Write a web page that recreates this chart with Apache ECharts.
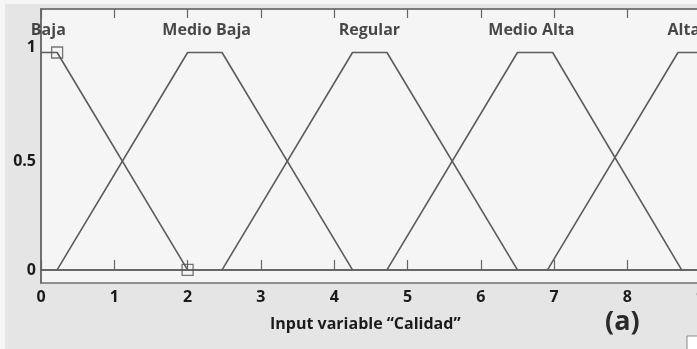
<!DOCTYPE html>
<html>
<head>
<meta charset="utf-8">
<script src="https://cdn.jsdelivr.net/npm/echarts@6/dist/echarts.min.js"></script>
<style>
  html, body { margin: 0; padding: 0; background: #f6f6f6; overflow: hidden; width: 697px; height: 349px; }
  /* The plot runs past the right edge of the page, so the canvas is wider than the view */
  #chart { width: 774px; height: 349px; }
</style>
</head>
<body>
<div id="chart"></div>
<script>
// Membership functions of the input variable "Calidad"
const setNames = ['Baja', 'Medio Baja', 'Regular', 'Medio Alta', 'Alta'];
const bajaPts = [[0, 1], [0.22, 1], [2, 0]];
const medioBajaPts = [[0.22, 0], [2, 1], [2.47, 1], [4.25, 0]];
const regularPts = [[2.47, 0], [4.25, 1], [4.72, 1], [6.5, 0]];
const medioAltaPts = [[4.72, 0], [6.5, 1], [6.98, 1], [8.74, 0]];
const altaPts = [[6.91, 0], [8.69, 1], [10, 1]];
const baseline = [[0, 0], [10, 0]];
// Highlighted vertices of the selected set
const markedPts = [[0.22, 1], [2, 0]];
// Set name anchors (x, y in data units)
const nameX = [0.1, 2.26, 4.48, 6.69, 8.77];
const nameY = 1.103;
const xTicks = [0, 1, 2, 3, 4, 5, 6, 7, 8, 9, 10];
const yTicks = [0, 0.5, 1];

const FONT = '"Open Sans", "DejaVu Sans", sans-serif';
const LINE = '#5c5c5c';
const TEXT = '#1b1b1b';

const chart = echarts.init(document.getElementById('chart'), null, { renderer: 'canvas' });

const mfLine = (name, pts) => ({
  name, type: 'line', data: pts, symbol: 'none', silent: true,
  lineStyle: { color: LINE, width: 1.6 }, z: 3, animation: false
});

chart.setOption({
  animation: false,
  backgroundColor: '#f6f6f6',
  graphic: [
    { type: 'rect', z: -10, shape: { x: 5, y: 4, width: 800, height: 360 }, style: { fill: '#e5e5e5' } },
    { type: 'text', left: 270, top: 316, style: { text: 'Input variable \u201cCalidad\u201d', font: 'bold 16px ' + FONT, fill: TEXT } },
    { type: 'text', left: 605, top: 309, style: { text: '(a)', font: 'bold 27px ' + FONT, fill: '#2a2a2a' } },
    { type: 'rect', shape: { x: 687, y: 336, width: 20, height: 20 }, style: { fill: '#ffffff', stroke: '#8a8a8a', lineWidth: 1 } }
  ],
  grid: {
    left: 41, top: 9, bottom: 66, right: 0, outerBoundsMode: 'none', containLabel: false,
    show: true, backgroundColor: '#f5f5f5', borderColor: '#707070', borderWidth: 1.5, z: 0
  },
  xAxis: [
    {
      type: 'value', position: 'bottom', min: 0, max: 10, interval: 1,
      axisLine: { show: true, lineStyle: { color: '#666', width: 1.5 } },
      axisTick: { show: true, inside: true, length: 10, lineStyle: { color: '#666', width: 1.2 } },
      axisLabel: { margin: 6, color: TEXT, fontWeight: 'bold', fontSize: 16, fontFamily: FONT,
                   formatter: v => (xTicks.includes(v) ? String(v) : '') },
      splitLine: { show: false }
    },
    {
      type: 'value', position: 'top', min: 0, max: 10, interval: 1,
      axisLine: { show: true, lineStyle: { color: '#777', width: 1.5 } },
      axisTick: { show: true, inside: true, length: 9, lineStyle: { color: '#666', width: 1.2 } },
      axisLabel: { show: false },
      splitLine: { show: false }
    }
  ],
  yAxis: {
    type: 'value', min: -0.06, max: 1.2,
    axisLine: { show: true, lineStyle: { color: '#666', width: 1.5 } },
    axisTick: { show: false },
    splitLine: { show: false },
    axisLabel: {
      customValues: yTicks, margin: 5, color: TEXT, fontWeight: 'bold', fontSize: 16, fontFamily: FONT,
      formatter: v => (v === 1 ? '{up|1}' : String(v)),
      rich: { up: { padding: [0, 0, 10, 0], fontWeight: 'bold', fontSize: 16, fontFamily: FONT, color: TEXT } }
    }
  },
  series: [
    mfLine('baseline', baseline),
    mfLine(setNames[0], bajaPts),
    mfLine(setNames[1], medioBajaPts),
    mfLine(setNames[2], regularPts),
    mfLine(setNames[3], medioAltaPts),
    mfLine(setNames[4], altaPts),
    {
      type: 'scatter', data: markedPts, symbol: 'rect', symbolSize: 11, z: 4, silent: true,
      itemStyle: { color: 'rgba(0,0,0,0)', borderColor: '#555', borderWidth: 1.3 }
    },
    {
      type: 'scatter', symbolSize: 0, z: 5, silent: true,
      data: setNames.map((n, i) => ({ value: [nameX[i], nameY], name: n })),
      label: { show: true, position: 'inside', formatter: p => p.name, color: TEXT,
               fontWeight: 'bold', fontSize: 16, fontFamily: FONT }
    }
  ]
});
</script>
</body>
</html>
